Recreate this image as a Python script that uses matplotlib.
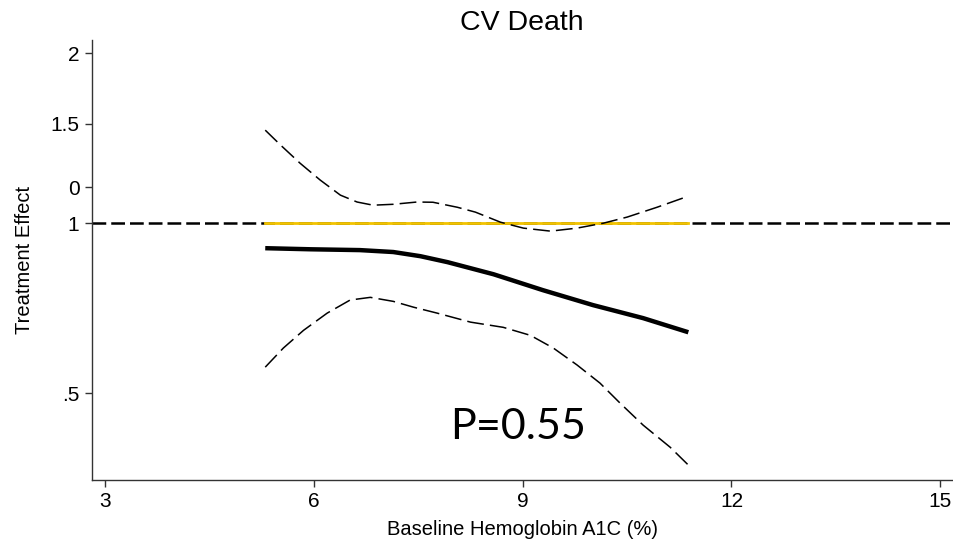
import numpy as np
import matplotlib
matplotlib.use("Agg")
from matplotlib import pyplot as plt

plt.rcParams['font.family'] = ['Liberation Sans', 'DejaVu Sans']

# valores (HbA1c vs efeito do tratamento)
hba1c = [5.30, 5.95, 6.66, 7.14, 7.53, 7.92, 8.58, 9.29, 10.01, 10.73, 11.38]
efeito = [0.903, 0.899, 0.896, 0.889, 0.874, 0.853, 0.812, 0.761, 0.716, 0.679, 0.641]

x_sup = [5.30, 5.52, 5.80, 6.09, 6.38, 6.62, 6.85, 7.14, 7.48, 7.71, 8.06, 8.32,
         8.68, 9.01, 9.40, 9.78, 10.16, 10.50, 10.93, 11.34]
ic_sup = [1.461, 1.375, 1.277, 1.192, 1.121, 1.090, 1.076, 1.080, 1.090, 1.089, 1.067, 1.046,
          1.004, 0.980, 0.968, 0.980, 1.000, 1.025, 1.067, 1.112]

x_inf = [5.30, 5.56, 5.85, 6.19, 6.52, 6.81, 7.14, 7.43, 7.77, 8.25, 8.72, 9.11,
         9.44, 9.78, 10.11, 10.40, 10.73, 11.12, 11.38]
ic_inf = [0.556, 0.601, 0.646, 0.693, 0.731, 0.739, 0.727, 0.710, 0.693, 0.668, 0.654, 0.633,
          0.601, 0.561, 0.521, 0.480, 0.439, 0.401, 0.373]

yticks = [0.5, 1, 1.158, 1.5, 2]
ytick_labels = ['.5', '1', '0', '1.5', '2']
xticks = [3, 6, 9, 12, 15]

fig = plt.figure(figsize=(9.54, 5.45), dpi=100)
ax = fig.add_axes([0.0964, 0.1193, 0.9016, 0.8073])

ax.set_yscale('log')
ax.set_xlim(2.81, 15.17)
ax.set_ylim(0.351, 2.11)

# linha de referencia
ax.axhline(1, color='black', linewidth=1.8, dashes=(5.5, 2), zorder=1)
ax.plot([hba1c[0], hba1c[-1]], [1, 1], color='#f2c300', linewidth=2, zorder=2)

ax.plot(x_sup, ic_sup, color='black', linewidth=1.1, dashes=(11, 4), zorder=3)
ax.plot(x_inf, ic_inf, color='black', linewidth=1.1, dashes=(11, 4), zorder=3)
ax.plot(hba1c, efeito, color='black', linewidth=3.2, solid_capstyle='butt',
        solid_joinstyle='round', zorder=4)

ax.yaxis.set_major_locator(matplotlib.ticker.FixedLocator(yticks))
ax.yaxis.set_minor_locator(matplotlib.ticker.NullLocator())
ax.set_yticklabels(ytick_labels)
ax.set_xticks(xticks)

for lado in ['top', 'right']:
    ax.spines[lado].set_visible(False)
for lado in ['left', 'bottom']:
    ax.spines[lado].set_color('#333333')
    ax.spines[lado].set_linewidth(1.0)

ax.tick_params(axis='both', direction='out', length=5, width=1, color='#333333',
               labelsize=15, pad=4)

ax.set_title('CV Death', fontsize=20.5, pad=7)
ax.set_ylabel('Treatment Effect', fontsize=14.5)
ax.yaxis.set_label_coords(-0.067, 0.5)
ax.set_xlabel('Baseline Hemoglobin A1C (%)', fontsize=14.5, labelpad=6)

ax.text(8.93, 0.415, 'P=0.55', fontsize=31, ha='center', va='baseline',
        family=['Lato', 'DejaVu Sans'])

fig.savefig('out.png', dpi=100)
